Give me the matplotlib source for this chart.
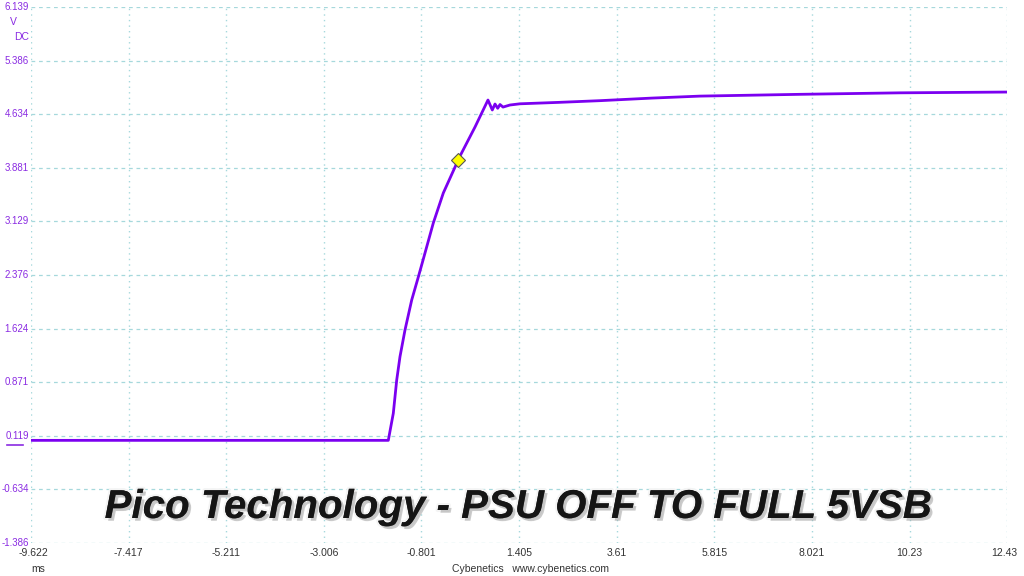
import matplotlib
matplotlib.use('Agg')

import matplotlib.pyplot as plt
import matplotlib.patheffects as pe

# Waveform (ms, V)
time_ms = [-9.622, -5.0, -1.549, -1.436, -1.359, -1.285, -1.172, -1.020, -0.871,
           -0.720, -0.532, -0.306, -0.020, 0.025, 0.410, 0.703, 0.801, 0.862,
           0.923, 0.975, 1.043, 1.200, 1.426, 2.300, 3.234, 4.400, 5.493,
           7.753, 10.012, 12.430]
volts = [0.055, 0.055, 0.055, 0.435, 0.902, 1.230, 1.604, 2.026, 2.348,
         2.685, 3.107, 3.528, 3.921, 3.991, 4.454, 4.833, 4.693, 4.777,
         4.717, 4.770, 4.734, 4.763, 4.780, 4.800, 4.824, 4.860, 4.888,
         4.913, 4.934, 4.945]

marker_t = 0.025
marker_v = 3.991

x_ticks = [-9.622, -7.417, -5.211, -3.006, -0.801, 1.405, 3.61, 5.815, 8.021, 10.23, 12.43]
y_ticks = [-1.386, -0.634, 0.119, 0.871, 1.624, 2.376, 3.129, 3.881, 4.634, 5.386, 6.139]

title = "Pico Technology - PSU OFF TO FULL 5VSB"

purple = '#8a2be2'
line_col = '#7b00f0'
grid_col = '#a6d8dc'
label_font = 'Liberation Sans'


def main():
    fig = plt.figure(figsize=(10.24, 5.76), dpi=100)
    ax = fig.add_axes([31 / 1024, 1 - 543 / 576, 976 / 1024, 536 / 576])

    ax.set_xlim(x_ticks[0], x_ticks[-1])
    ax.set_ylim(y_ticks[0], y_ticks[-1])

    # grid: dashed horizontal, dotted vertical
    for y in y_ticks:
        ax.axhline(y, color=grid_col, lw=0.9, ls=(0, (3, 3)), zorder=1)
    for x in x_ticks:
        ax.axvline(x, color=grid_col, lw=1.0, ls=(0, (1, 3)), zorder=1)

    ax.plot(time_ms, volts, color=line_col, lw=2.0, zorder=3)
    ax.plot([marker_t], [marker_v], marker='D', ms=7, mfc='#ffff00', mec='#555555',
            mew=0.8, zorder=4)

    for s in ax.spines.values():
        s.set_visible(False)
    ax.set_xticks([])
    ax.set_yticks([])

    # y tick labels (purple)
    for y in y_ticks:
        ax.annotate(f"{y}", xy=(0, y), xycoords=('axes fraction', 'data'),
                    xytext=(-1.5, 0), textcoords='offset points',
                    ha='right', va='center', fontsize=7, color=purple,
                    family=label_font)
    # x tick labels
    for i, x in enumerate(x_ticks):
        ax.annotate(f"{x}", xy=(x, 0), xycoords=('data', 'axes fraction'),
                    xytext=(2 if i == 0 else (-2 if i == len(x_ticks) - 1 else 0), -7),
                    textcoords='offset points',
                    ha='center', va='center', fontsize=7.5, color='#333333',
                    family=label_font)

    fig.text(13 / 1024, 1 - 22 / 576, "V", color=purple, fontsize=7.5, ha='center',
             va='center', family=label_font)
    fig.text(22 / 1024, 1 - 37 / 576, "DC", color=purple, fontsize=7.5, ha='center',
             va='center', family=label_font)
    fig.text(38 / 1024, 1 - 569 / 576, "ms", color='#333333', fontsize=7.5, ha='center',
             va='center', family=label_font)
    fig.text(530 / 1024, 1 - 569 / 576, "Cybenetics   www.cybenetics.com", color='#333333',
             fontsize=7.5, ha='center', va='center', family=label_font)

    # channel zero marker under 0.119
    fig.add_artist(plt.Line2D([7 / 1024, 23 / 1024], [1 - 445 / 576, 1 - 445 / 576],
                              color=purple, lw=1.2))

    # big title with outline/shadow
    fig.text(518 / 1024, 1 - 507 / 576, title, fontsize=29, fontweight='bold',
             fontstyle='italic', family='Liberation Sans', color='#151515',
             ha='center', va='center', zorder=10,
             path_effects=[pe.withStroke(linewidth=3, foreground='#f4f4f4'),
                           pe.SimplePatchShadow(offset=(2, -2), shadow_rgbFace='#999999', alpha=0.5),
                           pe.Normal()])

    fig.savefig('out.png', dpi=100, facecolor='white')


if __name__ == "__main__":
    main()
